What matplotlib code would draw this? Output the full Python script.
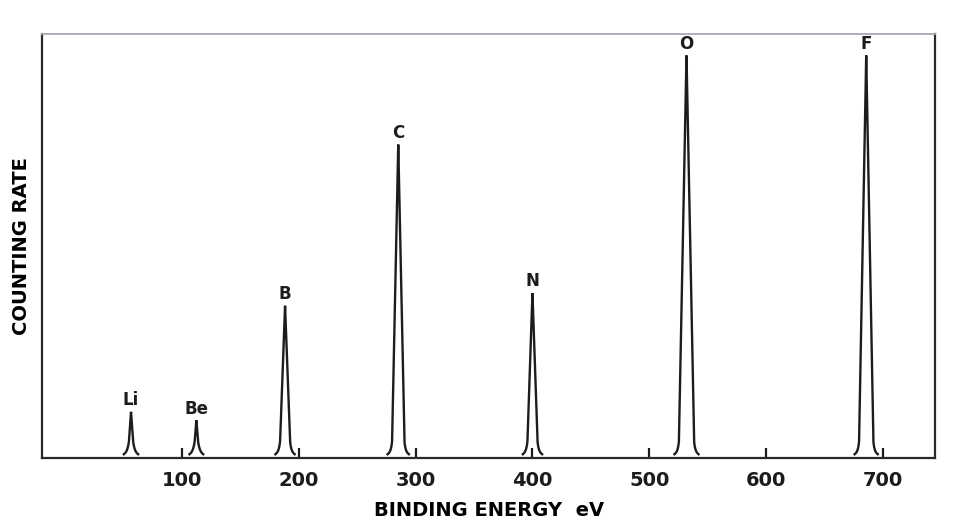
import numpy as np
import matplotlib.pyplot as plt

# Peak parameters
elements = ['Li', 'Be', 'B', 'C', 'N', 'O', 'F']
energies = [56, 112, 188, 285, 400, 532, 686]        # eV
heights = [11, 9, 36, 74, 39, 95, 95]                # counting rate, % of full scale
half_widths = [2.8, 2.6, 4.8, 5.6, 4.8, 6.8, 6.4]    # half base width of each line, eV
xticks = [100, 200, 300, 400, 500, 600, 700]

knee = 4.0     # level where the line foot starts to curl out
foot = 1.0     # level where the pen stops, above the baseline
flare = 1.2    # eV, how far the foot curls out

fig = plt.figure(figsize=(9.62, 5.27), dpi=100)
ax = fig.add_axes([0.044, 0.13, 0.928, 0.805])

for el, e0, h, a in zip(elements, energies, heights, half_widths):
    # triangular line drawn as two strokes meeting at the top, with curled feet
    y = np.linspace(foot, h, 400)
    dx = a * (1 - y / h) + flare * np.clip(knee / y - 1, 0, None)
    xs = np.concatenate([e0 - dx, (e0 + dx)[::-1]])
    ys = np.concatenate([y, y[::-1]])
    ax.plot(xs, ys, color='#1c1c1c', lw=1.7, solid_joinstyle='miter')
    ax.text(e0, h + 0.6, el, ha='center', va='bottom',
            fontsize=12, fontweight='bold', color='#1c1c1c')

ax.set_xlim(-20, 745)
ax.set_ylim(0, 100)
ax.set_xticks(xticks)
ax.set_xticklabels([str(t) for t in xticks], fontsize=14, fontweight='bold')
ax.set_yticks([])
ax.tick_params(axis='x', direction='in', length=7, width=1.6, pad=9, colors='#1c1c1c')
for s in ax.spines.values():
    s.set_linewidth(1.6)
    s.set_color('#2a2a2a')
ax.spines['top'].set_color('#a4a9b3')
ax.spines['top'].set_linewidth(1.3)

ax.set_xlabel('BINDING ENERGY  eV', fontsize=14, fontweight='bold', labelpad=8)
ax.set_ylabel('COUNTING RATE', fontsize=14, fontweight='bold', labelpad=8)

plt.savefig('out.png', dpi=100)
